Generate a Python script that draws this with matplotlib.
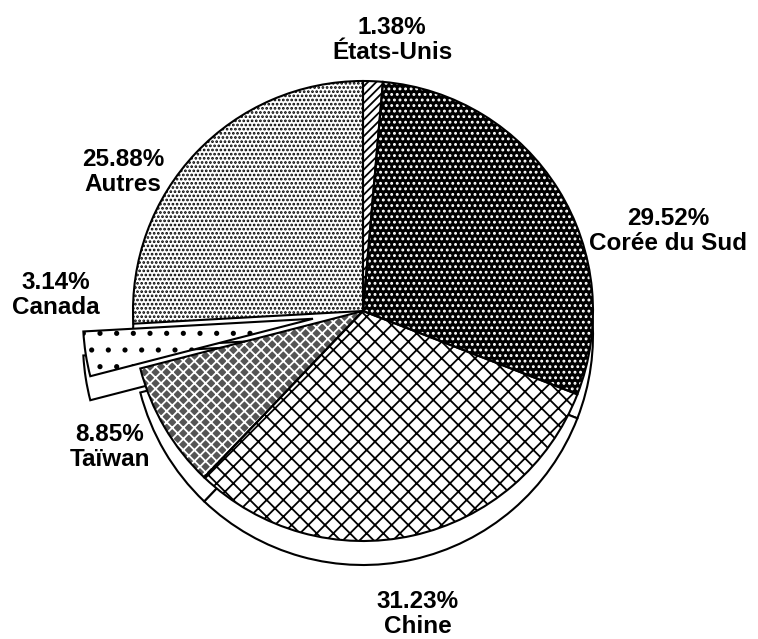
import matplotlib.pyplot as plt

plt.rcParams['font.family'] = ['Liberation Sans', 'DejaVu Sans']
plt.rcParams['hatch.linewidth'] = 1.3

# data (clockwise from top)
countries = ["États-Unis", "Corée du Sud", "Chine", "Taïwan", "Canada", "Autres"]
shares = [1.38, 29.52, 31.23, 8.85, 3.14, 25.88]
explode_frac = [0, 0, 0, 0, 0.22, 0]

# styling
faces = ["white", "black", "white", "#555555", "white", "white"]
hatch_cols = ["black", "white", "black", "white", "black", "black"]
hatches = ["////", "...", "xx", "xxx", ".", "...."]
label_pos = [(392, 40), (668, 231), (418, 614), (110, 447), (56, 295), (123, 172)]

W, H = 758, 639
cx, cy = 363, H - 311
R = 230
explode_px = [e * R for e in explode_frac]

fig = plt.figure(figsize=(W / 100, H / 100), dpi=100)
ax = fig.add_axes([0, 0, 1, 1])

# side of the disc (thickness) drawn first, shifted down
ax.pie(shares, explode=explode_px, startangle=90, counterclock=False,
       radius=R, center=(cx, cy - 24),
       wedgeprops=dict(facecolor="white", edgecolor="black", linewidth=1.5))

# filled top face with hatches
wedges, _ = ax.pie(shares, explode=explode_px, startangle=90, counterclock=False,
                   radius=R, center=(cx, cy),
                   wedgeprops=dict(linewidth=0))
for w, fc, hc, h in zip(wedges, faces, hatch_cols, hatches):
    w.set_facecolor(fc)
    w.set_edgecolor(hc)
    w.set_hatch(h)

# outlines on top
ax.pie(shares, explode=explode_px, startangle=90, counterclock=False,
       radius=R, center=(cx, cy),
       wedgeprops=dict(fill=False, edgecolor="black", linewidth=1.5))

for name, val, (x, y) in zip(countries, shares, label_pos):
    ax.text(x, H - y, f"{val:.2f}%\n{name}", ha="center", va="center",
            fontsize=17.5, fontweight="bold", linespacing=1.15, color="black")

ax.set_xlim(0, W)
ax.set_ylim(0, H)
ax.set_aspect("equal")
ax.axis("off")

fig.savefig("out.png", dpi=100, facecolor="white")
